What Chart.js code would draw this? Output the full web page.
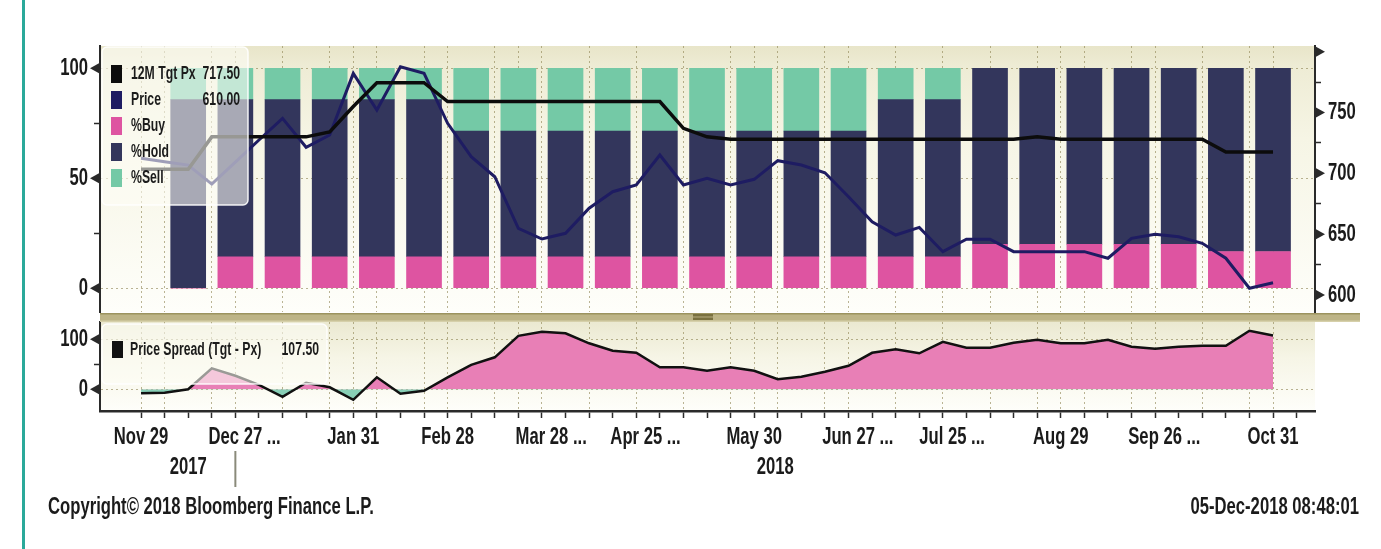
<!DOCTYPE html>
<html>
<head>
<meta charset="utf-8">
<title>12M Tgt Px, Price and analyst recommendations</title>
<script src="https://cdn.jsdelivr.net/npm/chart.js@4.4.1/dist/chart.umd.min.js"></script>
<style>
  html, body { margin: 0; padding: 0; background: #fff; }
  #wrap { position: relative; width: 1381px; height: 549px; overflow: hidden; }
  #wrap canvas { position: absolute; left: 0; top: 0; }
</style>
</head>
<body>
<div id="wrap">
  <canvas id="top" width="1381" height="549"></canvas>
  <canvas id="bottom" width="1381" height="549"></canvas>
</div>
<script>
// weekly points (Wednesdays, Nov 2017 - Oct 2018)
const weeks = ['Nov 29', 'Dec 06', 'Dec 13', 'Dec 20', 'Dec 27', 'Jan 03', 'Jan 10', 'Jan 17', 'Jan 24', 'Jan 31',
  'Feb 07', 'Feb 14', 'Feb 21', 'Feb 28', 'Mar 07', 'Mar 14', 'Mar 21', 'Mar 28', 'Apr 04', 'Apr 11',
  'Apr 18', 'Apr 25', 'May 02', 'May 09', 'May 16', 'May 23', 'May 30', 'Jun 06', 'Jun 13', 'Jun 20',
  'Jun 27', 'Jul 04', 'Jul 11', 'Jul 18', 'Jul 25', 'Aug 01', 'Aug 08', 'Aug 15', 'Aug 22', 'Aug 29',
  'Sep 05', 'Sep 12', 'Sep 19', 'Sep 26', 'Oct 03', 'Oct 10', 'Oct 17', 'Oct 24', 'Oct 31'];

const price = [712.4, 709.5, 706.8, 691.2, 709.3, 727.4, 745.2, 721.4, 731.5, 782.2,
  752.1, 787.6, 782.2, 741.1, 713.7, 697.2, 654.8, 646.0, 650.7, 671.3,
  684.9, 690.4, 715.1, 690.4, 695.9, 690.4, 695.1, 710.4, 706.8, 700.5,
  680.8, 660.2, 649.3, 655.6, 635.6, 645.8, 645.8, 635.6, 635.6, 635.6,
  635.6, 630.2, 646.6, 649.9, 647.9, 642.5, 630.2, 605.5, 610.0];

const target = [703.3, 703.3, 703.3, 730, 730, 730, 730, 730, 734, 755,
  774.5, 774.5, 774.5, 759, 759, 759, 759, 759, 759, 759,
  759, 759, 759, 737, 730, 728, 728, 728, 728, 728,
  728, 728, 728, 728, 728, 728, 728, 728, 730, 728,
  728, 728, 728, 728, 728, 728, 717.5, 717.5, 717.5];

const spread = [-8, -7, 0, 42, 27, 9, -15, 13, 4, -21,
  24, -9, -3, 24, 49, 64, 107, 115, 112, 92,
  77, 73, 44, 44, 37, 44, 37, 20, 25, 35,
  47, 73, 80, 72, 95, 83, 83, 93, 99, 92,
  92, 99, 85, 81, 85, 87, 87, 117, 107.5];

// fortnightly recommendation bars
const barWeeks = ['Dec 13', 'Dec 27', 'Jan 10', 'Jan 24', 'Feb 07', 'Feb 21', 'Mar 07', 'Mar 21',
  'Apr 04', 'Apr 18', 'May 02', 'May 16', 'May 30', 'Jun 13', 'Jun 27', 'Jul 11',
  'Jul 25', 'Aug 08', 'Aug 22', 'Sep 05', 'Sep 19', 'Oct 03', 'Oct 17', 'Oct 31'];
const pctBuy = [0, 14.3, 14.3, 14.3, 14.3, 14.3, 14.3, 14.3, 14.3, 14.3, 14.3, 14.3,
  14.3, 14.3, 14.3, 14.3, 14.3, 20, 20, 20, 20, 20, 16.7, 16.7];
const pctHold = [85.7, 71.4, 71.4, 71.4, 71.4, 71.4, 57.1, 57.1, 57.1, 57.1, 57.1, 57.1,
  57.1, 57.1, 57.1, 71.4, 71.4, 80, 80, 80, 80, 80, 83.3, 83.3];
const pctSell = [14.3, 14.3, 14.3, 14.3, 14.3, 14.3, 28.6, 28.6, 28.6, 28.6, 28.6, 28.6,
  28.6, 28.6, 28.6, 14.3, 14.3, 0, 0, 0, 0, 0, 0, 0];

// axis text
const xLabels = ['Nov 29', 'Dec 27 ...', 'Jan 31', 'Feb 28', 'Mar 28 ...', 'Apr 25 ...', 'May 30',
  'Jun 27 ...', 'Jul 25 ...', 'Aug 29', 'Sep 26 ...', 'Oct 31'];
const years = ['2017', '2018'];
const yearBreak = 'Dec 27';
const pctLabels = [0, 50, 100];
const priceLabels = [600, 650, 700, 750];
const spreadLabels = [0, 100];

// weeks carrying a dotted vertical grid line
const gridAt = [0, 1, 3, 4, 6, 8, 9, 10, 12, 13, 15, 16, 17, 19, 21, 23, 25, 26, 27, 29, 30,
  32, 34, 36, 38, 39, 40, 42, 43, 45, 47, 48];

const COL = {
  buy: '#de54a1', hold: '#33365c', sell: '#74c9a6',
  price: '#1e1c62', target: '#0c0c0c',
  up: '#e87fb6', down: '#88cfb6',
  grid: 'rgba(140,130,80,0.6)', ink: '#1b1b1b', axis: '#2a2a2a'
};
const NONE = 'rgba(0,0,0,0)';
const X_MIN = -1.74, X_MAX = 49.78;
const SX = 0.68;   // text is drawn narrow, like the source
const AXIS_PX = 24.5;
const LEG_PX = 18;

const wk = d => weeks.indexOf(d);
const pts = arr => arr.map((v, i) => ({ x: i, y: v }));
const barPts = arr => arr.map((v, i) => ({ x: wk(barWeeks[i]), y: v }));

function text(ctx, s, x, y, size, align) {
  ctx.save();
  ctx.font = 'bold ' + size + 'px "Liberation Sans", Arial, sans-serif';
  ctx.fillStyle = COL.ink;
  ctx.textBaseline = 'middle';
  ctx.textAlign = align || 'left';
  ctx.translate(x, y);
  ctx.scale(SX, 1);
  ctx.fillText(s, 0, 0);
  ctx.restore();
}

function textWidth(ctx, s, size) {
  ctx.save();
  ctx.font = 'bold ' + size + 'px "Liberation Sans", Arial, sans-serif';
  const w = ctx.measureText(s).width * SX;
  ctx.restore();
  return w;
}

function tri(ctx, x, y, dir) {
  ctx.save();
  ctx.fillStyle = COL.axis;
  ctx.beginPath();
  ctx.moveTo(x, y - 5);
  ctx.lineTo(x, y + 5);
  ctx.lineTo(x + dir * 9, y);
  ctx.closePath();
  ctx.fill();
  ctx.restore();
}

function overlay(ctx, x, y, w, h) {
  ctx.save();
  ctx.fillStyle = 'rgba(253,253,246,0.58)';
  ctx.strokeStyle = 'rgba(255,255,255,0.9)';
  ctx.lineWidth = 1.5;
  ctx.beginPath();
  ctx.roundRect(x, y, w, h, 5);
  ctx.fill();
  ctx.stroke();
  ctx.restore();
}

function panelBg(chart, stops) {
  const { ctx, chartArea: a } = chart;
  const g = ctx.createLinearGradient(0, a.top, 0, a.bottom);
  stops.forEach(s => g.addColorStop(s[0], s[1]));
  ctx.save();
  ctx.fillStyle = g;
  ctx.fillRect(a.left, a.top, a.right - a.left, a.bottom - a.top);
  ctx.restore();
}

function xScale(extra) {
  return Object.assign({
    type: 'linear', min: X_MIN, max: X_MAX, offset: false, stacked: true,
    ticks: { display: false, stepSize: 1, includeBounds: false, autoSkip: false },
    grid: {
      offset: false, lineWidth: 1, drawTicks: false,
      color: c => (c.tick && gridAt.includes(c.tick.value)) ? COL.grid : NONE
    },
    border: { display: false, dash: [2, 3] },
    afterFit: s => { s.height = 0; }
  }, extra);
}

const topPanel = {
  id: 'topPanel',
  beforeDraw(chart) {
    panelBg(chart, [[0, '#e8e5c9'], [0.08, '#eeecd5'], [0.35, '#f6f5e5'], [1, '#fefefa']]);
  },
  afterDatasetsDraw(chart) {
    const ctx = chart.ctx;
    overlay(ctx, 102, 47, 146, 158);
    const rows = [
      ['12M Tgt Px', COL.target, target[target.length - 1].toFixed(2)],
      ['Price', COL.price, price[price.length - 1].toFixed(2)],
      ['%Buy', COL.buy], ['%Hold', COL.hold], ['%Sell', COL.sell]
    ];
    rows.forEach((r, i) => {
      const y = 74 + i * 26;
      ctx.fillStyle = r[1];
      ctx.fillRect(111, y - 9, 11, 18);
      text(ctx, r[0], 131, y, LEG_PX, 'left');
      if (r[2]) text(ctx, r[2], 240, y, LEG_PX, 'right');
    });
  },
  afterDraw(chart) {
    const { ctx, scales: { y, yp }, chartArea: a } = chart;
    pctLabels.forEach(v => {
      const py = y.getPixelForValue(v);
      tri(ctx, a.left - 1, py, -1);
      text(ctx, String(v), 88, py, AXIS_PX, 'right');
    });
    yp.ticks.forEach(t => {
      if (t.value % 50 !== 0) return;
      const py = yp.getPixelForValue(t.value);
      tri(ctx, a.right + 1, py, 1);
      if (priceLabels.includes(t.value)) text(ctx, String(t.value), 1328, py, AXIS_PX, 'left');
    });
  }
};

const bottomPanel = {
  id: 'bottomPanel',
  beforeDraw(chart) {
    panelBg(chart, [[0, '#ebe9d1'], [0.4, '#f6f5e6'], [1, '#fefefa']]);
  },
  afterDatasetsDraw(chart) {
    const ctx = chart.ctx;
    overlay(ctx, 102, 324, 225, 60);
    ctx.fillStyle = '#111';
    ctx.fillRect(112, 341, 11, 17);
    text(ctx, 'Price Spread (Tgt - Px)', 130, 350, LEG_PX, 'left');
    text(ctx, spread[spread.length - 1].toFixed(2), 319, 350, LEG_PX, 'right');
  },
  afterDraw(chart) {
    const { ctx, scales: { x, y }, chartArea: a } = chart;
    // panel separator
    ctx.save();
    ctx.fillStyle = '#bdb487';
    ctx.fillRect(100, 313, 1260, 9);
    ctx.fillStyle = '#9c935f';
    ctx.fillRect(100, 313, 1260, 1.5);
    ctx.fillStyle = '#d6d0aa';
    ctx.fillRect(100, 320.5, 1260, 1.5);
    ctx.fillStyle = '#7a7140';
    ctx.fillRect(693, 314, 20, 6);
    ctx.fillStyle = '#b7ae80';
    ctx.fillRect(693, 316.5, 20, 1);
    // page border
    ctx.fillStyle = '#2aa99a';
    ctx.fillRect(22, 0, 3, 549);
    ctx.restore();

    spreadLabels.forEach(v => {
      const py = y.getPixelForValue(v);
      tri(ctx, a.left - 1, py, -1);
      text(ctx, String(v), 88, py, AXIS_PX, 'right');
    });

    xLabels.forEach(lbl => {
      const d = lbl.slice(0, 6);
      const rest = lbl.slice(6);
      const px = x.getPixelForValue(wk(d));
      text(ctx, d, px, 437, AXIS_PX, 'center');
      if (rest) text(ctx, rest, px + textWidth(ctx, d, AXIS_PX) / 2, 437, AXIS_PX, 'left');
    });

    const xb = x.getPixelForValue(wk(yearBreak));
    ctx.save();
    ctx.strokeStyle = '#8a8a7a';
    ctx.lineWidth = 2;
    ctx.beginPath();
    ctx.moveTo(xb, 451);
    ctx.lineTo(xb, 487);
    ctx.stroke();
    ctx.restore();
    text(ctx, years[0], (x.getPixelForValue(0) + xb) / 2, 467, AXIS_PX, 'center');
    text(ctx, years[1], (xb + a.right) / 2, 467, AXIS_PX, 'center');

    text(ctx, 'Copyright\u00a9 2018 Bloomberg Finance L.P.', 48, 507, AXIS_PX, 'left');
    text(ctx, '05-Dec-2018 08:48:01', 1359, 507, AXIS_PX, 'right');
  }
};

new Chart(document.getElementById('top'), {
  type: 'bar',
  data: {
    datasets: [
      { type: 'line', label: '12M Tgt Px', data: pts(target), yAxisID: 'yp', borderColor: COL.target,
        borderWidth: 3.5, pointRadius: 0, tension: 0, order: 0 },
      { type: 'line', label: 'Price', data: pts(price), yAxisID: 'yp', borderColor: COL.price,
        borderWidth: 3, pointRadius: 0, tension: 0, order: 0 },
      { label: '%Buy', data: barPts(pctBuy), yAxisID: 'y', stack: 'rec', backgroundColor: COL.buy,
        barThickness: 35, order: 1 },
      { label: '%Hold', data: barPts(pctHold), yAxisID: 'y', stack: 'rec', backgroundColor: COL.hold,
        barThickness: 35, order: 1 },
      { label: '%Sell', data: barPts(pctSell), yAxisID: 'y', stack: 'rec', backgroundColor: COL.sell,
        barThickness: 35, order: 1 }
    ]
  },
  options: {
    responsive: false,
    animation: false,
    events: [],
    layout: { padding: { left: 0, right: 0, top: 46, bottom: 237 } },
    plugins: { legend: { display: false }, tooltip: { enabled: false } },
    scales: {
      x: xScale(),
      y: {
        position: 'left', stacked: true, min: -10.8, max: 110.1,
        ticks: { display: false, stepSize: 25, includeBounds: false },
        grid: {
          color: c => (c.tick && c.tick.value % 50 === 0) ? COL.grid : NONE,
          drawTicks: true, tickLength: 6, tickColor: COL.axis, tickWidth: 1.5
        },
        border: { display: true, color: COL.axis, width: 2, dash: [2, 3] },
        afterFit: s => { s.width = 100; }
      },
      yp: {
        position: 'right', stacked: false, min: 586, max: 804.7,
        ticks: { display: false, stepSize: 25, includeBounds: false },
        grid: { drawOnChartArea: false, drawTicks: true, tickLength: 6, tickColor: COL.axis, tickWidth: 1.5 },
        border: { display: true, color: COL.axis, width: 2 },
        afterFit: s => { s.width = 66; }
      }
    }
  },
  plugins: [topPanel]
});

new Chart(document.getElementById('bottom'), {
  type: 'line',
  data: {
    datasets: [
      { label: 'Price Spread (Tgt - Px)', data: pts(spread), borderColor: '#111', borderWidth: 2.5,
        pointRadius: 0, tension: 0,
        fill: { target: 'origin', above: COL.up, below: COL.down } }
    ]
  },
  options: {
    responsive: false,
    animation: false,
    events: [],
    layout: { padding: { left: 0, right: 66, top: 322, bottom: 0 } },
    plugins: { legend: { display: false }, tooltip: { enabled: false } },
    scales: {
      x: xScale({
        grid: {
          offset: false, lineWidth: 1, drawTicks: true, tickLength: 7, tickWidth: 1.5,
          color: c => (c.tick && gridAt.includes(c.tick.value)) ? COL.grid : NONE,
          tickColor: c => (c.tick && c.tick.value >= 0) ? COL.axis : NONE
        },
        border: { display: true, color: COL.axis, width: 2.5, dash: [2, 3] },
        afterFit: s => { s.height = 138; }
      }),
      y: {
        position: 'left', min: -43.4, max: 134.6,
        ticks: { display: false, stepSize: 50, includeBounds: false },
        grid: {
          color: c => (c.tick && c.tick.value % 100 === 0) ? COL.grid : NONE,
          drawTicks: true, tickLength: 6, tickColor: COL.axis, tickWidth: 1.5
        },
        border: { display: true, color: COL.axis, width: 2, dash: [2, 3] },
        afterFit: s => { s.width = 100; }
      }
    }
  },
  plugins: [bottomPanel]
});
</script>
</body>
</html>
